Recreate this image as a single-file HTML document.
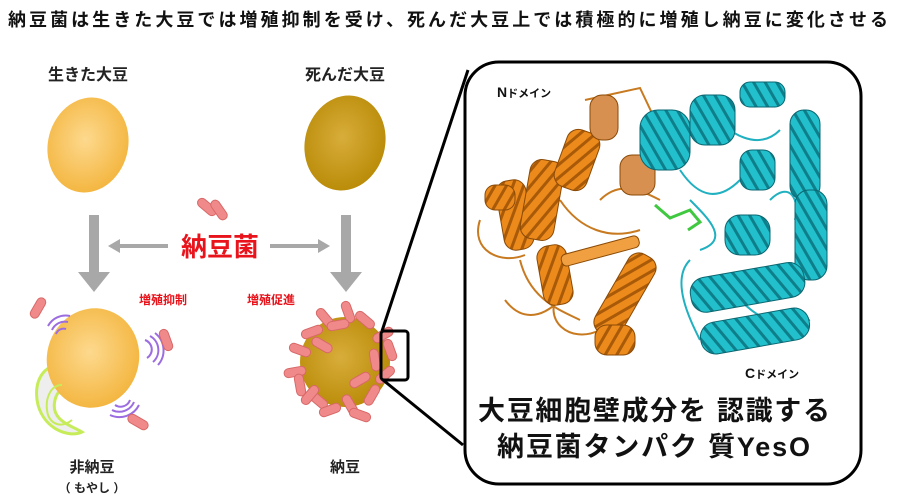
<!DOCTYPE html>
<html><head><meta charset="utf-8"><style>
body{margin:0;background:#fff;}
svg{display:block;}
text{font-family:"Liberation Sans","Noto Sans CJK JP",sans-serif;font-weight:bold;}
</style></head><body>
<svg width="900" height="499" viewBox="0 0 900 499" xmlns="http://www.w3.org/2000/svg">
<defs>
<radialGradient id="lb" cx="0.45" cy="0.45" r="0.6"><stop offset="0" stop-color="#fdd98e"/><stop offset="1" stop-color="#f3b43c"/></radialGradient>
<radialGradient id="db" cx="0.45" cy="0.45" r="0.6"><stop offset="0" stop-color="#d8ad3a"/><stop offset="1" stop-color="#b88a06"/></radialGradient>
<pattern id="po" width="10" height="10" patternUnits="userSpaceOnUse" patternTransform="rotate(30)"><rect width="10" height="10" fill="#ec8a1c"/><rect width="3" height="10" fill="#a85a08"/></pattern>
<pattern id="pc" width="10" height="10" patternUnits="userSpaceOnUse" patternTransform="rotate(-30)"><rect width="10" height="10" fill="#22c0cc"/><rect width="3" height="10" fill="#0e7f8a"/></pattern>
<g id="rod"><rect x="-11" y="-4.5" width="22" height="9" rx="4.5" fill="#f08a8a" stroke="#d86868" stroke-width="1"/></g>
</defs>
<text x="8" y="26" font-size="18" textLength="880" lengthAdjust="spacing" fill="#111">納豆菌は生きた大豆では増殖抑制を受け、死んだ大豆上では積極的に増殖し納豆に変化させる</text>
<text x="88" y="80" font-size="16" text-anchor="middle" fill="#222">生きた大豆</text>
<text x="345" y="80" font-size="16" text-anchor="middle" fill="#222">死んだ大豆</text>
<ellipse cx="88" cy="145" rx="40" ry="48" fill="url(#lb)" transform="rotate(15 88 145)"/>
<ellipse cx="345" cy="143" rx="40" ry="48" fill="url(#db)" transform="rotate(15 345 143)"/>
<rect x="89" y="215" width="10" height="60" fill="#a8a8a8"/><polygon points="78,272 110,272 94,292" fill="#a8a8a8"/>
<rect x="341" y="215" width="10" height="60" fill="#a8a8a8"/><polygon points="330,272 362,272 346,292" fill="#a8a8a8"/>
<line x1="168" y1="246" x2="116" y2="246" stroke="#a8a8a8" stroke-width="4"/><polygon points="108,246 120,239 120,253" fill="#a8a8a8"/>
<line x1="270" y1="246" x2="322" y2="246" stroke="#a8a8a8" stroke-width="4"/><polygon points="330,246 318,239 318,253" fill="#a8a8a8"/>
<text x="220" y="256" font-size="26" text-anchor="middle" fill="#e8131b">納豆菌</text>
<use href="#rod" transform="translate(207,207) rotate(40)"/>
<use href="#rod" transform="translate(219,210) rotate(55)"/>
<text x="163" y="304" font-size="12" text-anchor="middle" fill="#e8131b">増殖抑制</text>
<text x="271" y="304" font-size="12" text-anchor="middle" fill="#e8131b">増殖促進</text>
<path d="M70,365 C45,360 32,380 38,405 C45,430 70,438 82,432 C70,425 50,420 55,400 C58,385 75,385 80,375 Z" fill="#eeeeee" stroke="#c6ec5a" stroke-width="3"/>
<ellipse cx="93" cy="358" rx="46" ry="50" fill="url(#lb)" transform="rotate(15 93 358)"/>
<path d="M62,385 C50,385 44,400 48,415 C52,425 62,428 72,420" fill="none" stroke="#c6ec5a" stroke-width="2"/>
<g fill="none" stroke="#9b6de0" stroke-width="2">
<path d="M52,330 a14,14 0 0 1 16,-8"/><path d="M56,334 a8,8 0 0 1 10,-5"/><path d="M48,326 a20,20 0 0 1 22,-10"/>
<path d="M145,340 a10,10 0 0 1 2,18"/><path d="M150,336 a16,16 0 0 1 3,26"/><path d="M155,333 a22,22 0 0 1 3,32"/>
<path d="M115,405 a10,10 0 0 0 15,-5"/><path d="M112,410 a16,16 0 0 0 22,-8"/><path d="M110,415 a22,22 0 0 0 29,-10"/>
</g>
<use href="#rod" transform="translate(38,308) rotate(-60)"/>
<use href="#rod" transform="translate(166,340) rotate(70)"/>
<use href="#rod" transform="translate(138,422) rotate(30)"/>
<circle cx="345" cy="362" r="45" fill="url(#db)"/>
<g>
<use href="#rod" transform="translate(325,318) rotate(50)"/><use href="#rod" transform="translate(348,312) rotate(70)"/><use href="#rod" transform="translate(365,320) rotate(40)"/>
<use href="#rod" transform="translate(312,332) rotate(-20)"/><use href="#rod" transform="translate(300,350) rotate(20)"/><use href="#rod" transform="translate(295,372) rotate(-10)"/>
<use href="#rod" transform="translate(300,385) rotate(80)"/><use href="#rod" transform="translate(318,400) rotate(40)"/><use href="#rod" transform="translate(330,410) rotate(-20)"/>
<use href="#rod" transform="translate(350,405) rotate(60)"/><use href="#rod" transform="translate(372,395) rotate(-60)"/><use href="#rod" transform="translate(385,375) rotate(-40)"/>
<use href="#rod" transform="translate(390,350) rotate(70)"/><use href="#rod" transform="translate(383,335) rotate(-30)"/><use href="#rod" transform="translate(338,325) rotate(-10)"/>
<use href="#rod" transform="translate(310,395) rotate(-50)"/><use href="#rod" transform="translate(360,415) rotate(20)"/>
<use href="#rod" transform="translate(322,345) rotate(30)"/><use href="#rod" transform="translate(360,380) rotate(-30)"/><use href="#rod" transform="translate(375,360) rotate(80)"/>
</g>
<rect x="381" y="331" width="27" height="49" rx="3" fill="none" stroke="#000" stroke-width="3"/>
<line x1="382" y1="331" x2="468" y2="70" stroke="#000" stroke-width="3"/>
<line x1="383" y1="380" x2="463" y2="445" stroke="#000" stroke-width="3"/>
<text x="92" y="472" font-size="15" text-anchor="middle" fill="#222">非納豆</text>
<text x="92" y="492" font-size="12" text-anchor="middle" fill="#222">（ もやし ）</text>
<text x="345" y="472" font-size="15" text-anchor="middle" fill="#222">納豆</text>
<rect x="465" y="62" width="396" height="422" rx="34" fill="#fff" stroke="#000" stroke-width="3"/>
<!-- loops -->
<g fill="none" stroke="#c87a20" stroke-width="2">
<path d="M480,220 C470,250 500,265 525,255 M560,290 C540,320 570,345 600,330 M520,260 C530,300 560,310 580,320 M585,100 L640,88 L660,130 M560,200 C580,230 610,240 640,230 M505,300 C520,320 540,320 560,300 M600,200 C620,180 640,190 660,200"/>
</g>
<g fill="none" stroke="#20b0c0" stroke-width="2">
<path d="M680,170 C700,200 720,200 740,180 M690,260 C670,280 690,320 700,340 M700,100 C730,140 760,150 780,130 M770,200 C790,180 800,200 795,220 M690,200 C710,220 730,240 700,250 M740,300 C760,320 780,330 810,320"/>
</g>
<!-- orange helices -->
<g stroke="#8a4a06" stroke-width="1">
<rect x="500" y="180" width="30" height="70" rx="12" fill="url(#po)" transform="rotate(-10 515 215)"/>
<rect x="525" y="160" width="34" height="80" rx="12" fill="url(#po)" transform="rotate(10 542 200)"/>
<rect x="560" y="130" width="34" height="60" rx="12" fill="url(#po)" transform="rotate(20 577 160)"/>
<rect x="590" y="95" width="28" height="45" rx="12" fill="#d89050"/>
<rect x="485" y="185" width="30" height="25" rx="10" fill="url(#po)"/>
<rect x="540" y="245" width="30" height="60" rx="12" fill="url(#po)" transform="rotate(-10 555 275)"/>
<rect x="610" y="250" width="30" height="90" rx="12" fill="url(#po)" transform="rotate(30 625 295)"/>
<rect x="595" y="325" width="40" height="30" rx="12" fill="url(#po)"/>
<rect x="560" y="245" width="80" height="12" rx="5" fill="#f0a040" transform="rotate(-15 600 250)"/>
<rect x="620" y="155" width="35" height="40" rx="12" fill="#d89050"/>
</g>
<!-- cyan helices -->
<g stroke="#0a6670" stroke-width="1">
<rect x="640" y="110" width="50" height="60" rx="18" fill="url(#pc)"/>
<rect x="690" y="95" width="45" height="50" rx="15" fill="url(#pc)"/>
<rect x="740" y="82" width="45" height="25" rx="10" fill="url(#pc)"/>
<rect x="790" y="110" width="30" height="90" rx="14" fill="url(#pc)"/>
<rect x="795" y="190" width="32" height="90" rx="14" fill="url(#pc)"/>
<rect x="725" y="215" width="45" height="40" rx="15" fill="url(#pc)"/>
<rect x="690" y="270" width="115" height="35" rx="15" fill="url(#pc)" transform="rotate(-10 747 287)"/>
<rect x="700" y="315" width="110" height="32" rx="15" fill="url(#pc)" transform="rotate(-10 755 331)"/>
<rect x="740" y="150" width="35" height="40" rx="12" fill="url(#pc)"/>
</g>
<g stroke="#40c840" stroke-width="3" fill="none"><path d="M655,205 L670,218 L690,210 L700,222 L688,230"/></g>
<text x="497" y="97" font-size="14" fill="#111">N<tspan font-size="11">ドメイン</tspan></text>
<text x="745" y="378" font-size="14" fill="#111">C<tspan font-size="11">ドメイン</tspan></text>
<text x="478" y="420" font-size="27" textLength="352" lengthAdjust="spacing" fill="#111">大豆細胞壁成分を 認識する</text>
<text x="497" y="456" font-size="27" textLength="313" lengthAdjust="spacing" fill="#111">納豆菌タンパク 質YesO</text>
</svg>
</body></html>
